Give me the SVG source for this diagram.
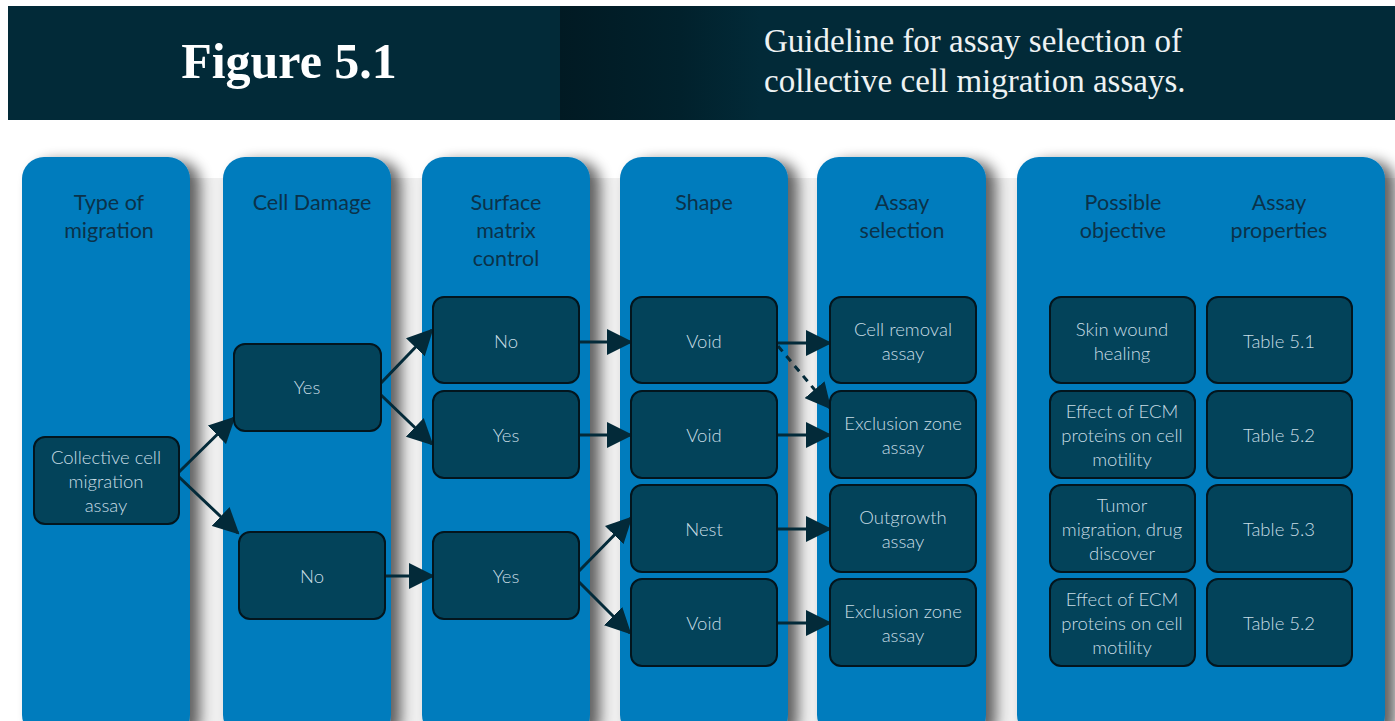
<svg xmlns="http://www.w3.org/2000/svg" width="1395" height="721" viewBox="0 0 1395 721">
<defs>
<style>
.lane{fill:#027bbd;filter:url(#sh);}
.head{font-family:"Lato","Liberation Sans",sans-serif;font-size:21.5px;fill:#0b324a;text-anchor:middle;}
.node rect{fill:#03435a;stroke:#03151d;stroke-width:2;}
.node text{font-family:"Lato","Liberation Sans",sans-serif;font-weight:300;font-size:18.5px;fill:#c8dde5;text-anchor:middle;}
.conn line{stroke:#032a39;stroke-width:3;marker-end:url(#ah);}
.conn line.dash{stroke-dasharray:7 6;}
</style>
<marker id="ah" viewBox="0 0 26 26" markerWidth="26" markerHeight="26" refX="24" refY="13" orient="auto" markerUnits="userSpaceOnUse">
<path d="M0,0 L26,13 L0,26 z" fill="#032a39"/>
</marker>
<filter id="sh" x="-10%" y="-5%" width="140%" height="115%">
<feGaussianBlur in="SourceAlpha" stdDeviation="7"/>
<feOffset dx="10" dy="4" result="b"/>
<feComponentTransfer><feFuncA type="linear" slope="0.6"/></feComponentTransfer>
<feMerge><feMergeNode/><feMergeNode in="SourceGraphic"/></feMerge>
</filter>
<linearGradient id="hg" x1="0" x2="1" y1="0" y2="0">
<stop offset="0" stop-color="#011a23"/>
<stop offset="0.6" stop-color="#01212c"/>
<stop offset="1" stop-color="#022a38"/>
</linearGradient>
</defs>
<rect x="0" y="0" width="1395" height="721" fill="#ffffff"/>
<rect x="190" y="178" width="1205" height="543" fill="#efefef"/>
<g id="header">
<rect x="8" y="6" width="1387" height="114" fill="#022a38"/>
<rect x="560" y="6" width="200" height="114" fill="url(#hg)"/>
<text x="289" y="78" text-anchor="middle" font-family="Liberation Serif, serif" font-weight="bold" font-size="50" fill="#ffffff">Figure 5.1</text>
<text x="764" y="52" font-family="Liberation Serif, serif" font-size="33" fill="#eef2f3">Guideline for assay selection of</text>
<text x="764" y="92" font-family="Liberation Serif, serif" font-size="33" fill="#eef2f3">collective cell migration assays.</text>
</g>
<g id="lanes">
<rect class="lane" x="22" y="157" width="168" height="580" rx="22"/>
<rect class="lane" x="223" y="157" width="168" height="580" rx="22"/>
<rect class="lane" x="422" y="157" width="168" height="580" rx="22"/>
<rect class="lane" x="620" y="157" width="168" height="580" rx="22"/>
<rect class="lane" x="817" y="157" width="169" height="580" rx="22"/>
<rect class="lane" x="1017" y="157" width="368" height="580" rx="22"/>
<text class="head" x="109" y="210">Type of</text>
<text class="head" x="109" y="238">migration</text>
<text class="head" x="312" y="210">Cell Damage</text>
<text class="head" x="506" y="210">Surface</text>
<text class="head" x="506" y="238">matrix</text>
<text class="head" x="506" y="266">control</text>
<text class="head" x="704" y="210">Shape</text>
<text class="head" x="902" y="210">Assay</text>
<text class="head" x="902" y="238">selection</text>
<text class="head" x="1123" y="210">Possible</text>
<text class="head" x="1123" y="238">objective</text>
<text class="head" x="1279" y="210">Assay</text>
<text class="head" x="1279" y="238">properties</text>
</g>
<g id="connectors" class="conn">
<line x1="179" y1="472" x2="234" y2="418"/>
<line x1="179" y1="477" x2="238" y2="533"/>
<line x1="381" y1="383" x2="432" y2="330"/>
<line x1="381" y1="395" x2="432" y2="444"/>
<line x1="385" y1="576" x2="433" y2="576"/>
<line x1="579" y1="342" x2="631" y2="342"/>
<line x1="579" y1="435" x2="631" y2="435"/>
<line x1="579" y1="571" x2="631" y2="518"/>
<line x1="579" y1="582" x2="630" y2="633"/>
<line x1="777" y1="343" x2="830" y2="343"/>
<line class="dash" x1="778" y1="346" x2="830" y2="408"/>
<line x1="777" y1="435" x2="830" y2="435"/>
<line x1="777" y1="529" x2="830" y2="529"/>
<line x1="777" y1="623" x2="830" y2="623"/>
</g>
<g id="n-collective" class="node"><rect x="34" y="437" width="145" height="87" rx="11"/><text x="106" y="464">Collective cell</text><text x="106" y="488">migration</text><text x="106" y="512">assay</text></g>
<g id="n-damage-yes" class="node"><rect x="234" y="344" width="147" height="87" rx="11"/><text x="307" y="394">Yes</text></g>
<g id="n-damage-no" class="node"><rect x="239" y="532" width="146" height="87" rx="11"/><text x="312" y="583">No</text></g>
<g id="n-surface-no" class="node"><rect x="433" y="297" width="146" height="86" rx="11"/><text x="506" y="348">No</text></g>
<g id="n-surface-yes1" class="node"><rect x="433" y="391" width="146" height="87" rx="11"/><text x="506" y="442">Yes</text></g>
<g id="n-surface-yes2" class="node"><rect x="433" y="532" width="146" height="87" rx="11"/><text x="506" y="583">Yes</text></g>
<g id="n-shape-void1" class="node"><rect x="631" y="297" width="146" height="86" rx="11"/><text x="704" y="348">Void</text></g>
<g id="n-shape-void2" class="node"><rect x="631" y="391" width="146" height="87" rx="11"/><text x="704" y="442">Void</text></g>
<g id="n-shape-nest" class="node"><rect x="631" y="485" width="146" height="87" rx="11"/><text x="704" y="536">Nest</text></g>
<g id="n-shape-void3" class="node"><rect x="631" y="579" width="146" height="87" rx="11"/><text x="704" y="630">Void</text></g>
<g id="n-assay-removal" class="node"><rect x="830" y="297" width="146" height="86" rx="11"/><text x="903" y="336">Cell removal</text><text x="903" y="360">assay</text></g>
<g id="n-assay-excl1" class="node"><rect x="830" y="391" width="146" height="87" rx="11"/><text x="903" y="430">Exclusion zone</text><text x="903" y="454">assay</text></g>
<g id="n-assay-outgrowth" class="node"><rect x="830" y="485" width="146" height="87" rx="11"/><text x="903" y="524">Outgrowth</text><text x="903" y="548">assay</text></g>
<g id="n-assay-excl2" class="node"><rect x="830" y="579" width="146" height="87" rx="11"/><text x="903" y="618">Exclusion zone</text><text x="903" y="642">assay</text></g>
<g id="n-obj1" class="node"><rect x="1050" y="297" width="145" height="86" rx="11"/><text x="1122" y="336">Skin wound</text><text x="1122" y="360">healing</text></g>
<g id="n-obj2" class="node"><rect x="1050" y="391" width="145" height="87" rx="11"/><text x="1122" y="418">Effect of ECM</text><text x="1122" y="442">proteins on cell</text><text x="1122" y="466">motility</text></g>
<g id="n-obj3" class="node"><rect x="1050" y="485" width="145" height="87" rx="11"/><text x="1122" y="512">Tumor</text><text x="1122" y="536">migration, drug</text><text x="1122" y="560">discover</text></g>
<g id="n-obj4" class="node"><rect x="1050" y="579" width="145" height="87" rx="11"/><text x="1122" y="606">Effect of ECM</text><text x="1122" y="630">proteins on cell</text><text x="1122" y="654">motility</text></g>
<g id="n-prop1" class="node"><rect x="1207" y="297" width="145" height="86" rx="11"/><text x="1279" y="348">Table 5.1</text></g>
<g id="n-prop2" class="node"><rect x="1207" y="391" width="145" height="87" rx="11"/><text x="1279" y="442">Table 5.2</text></g>
<g id="n-prop3" class="node"><rect x="1207" y="485" width="145" height="87" rx="11"/><text x="1279" y="536">Table 5.3</text></g>
<g id="n-prop4" class="node"><rect x="1207" y="579" width="145" height="87" rx="11"/><text x="1279" y="630">Table 5.2</text></g>
</svg>
